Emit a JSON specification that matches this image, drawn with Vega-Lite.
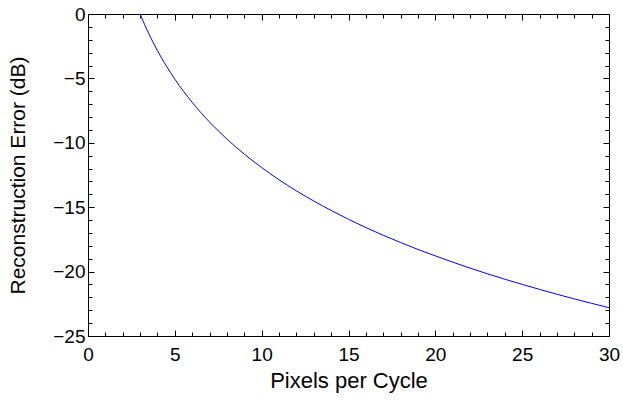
{
  "$schema": "https://vega.github.io/schema/vega-lite/v6.json",
  "autosize": {"type": "none"},
  "padding": {"left": 88, "top": 14, "right": 14, "bottom": 64},
  "width": 521,
  "height": 322,
  "config": {
    "view": {"stroke": "black", "strokeWidth": 1},
    "axis": {
      "domainColor": "black", "domainWidth": 1, "tickColor": "black", "tickWidth": 1,
      "grid": false, "labelFont": "Liberation Sans", "titleFont": "Liberation Sans",
      "labelFontSize": 19, "titleFontSize": 21, "titleFontWeight": "normal",
      "labelColor": "black", "titleColor": "black"
    }
  },
  "data": {"values": [
    {"x": 3, "y": 0}, {"x": 3.25, "y": -0.79}, {"x": 3.5, "y": -1.53}, {"x": 3.75, "y": -2.21},
    {"x": 4, "y": -2.85}, {"x": 4.5, "y": -4.01}, {"x": 5, "y": -5.06}, {"x": 5.5, "y": -6.0},
    {"x": 6, "y": -6.86}, {"x": 6.5, "y": -7.66}, {"x": 7, "y": -8.39}, {"x": 7.5, "y": -9.07},
    {"x": 8, "y": -9.71}, {"x": 9, "y": -10.88}, {"x": 10, "y": -11.92}, {"x": 11, "y": -12.87},
    {"x": 12, "y": -13.73}, {"x": 13, "y": -14.52}, {"x": 14, "y": -15.25}, {"x": 15, "y": -15.94},
    {"x": 16, "y": -16.58}, {"x": 17, "y": -17.18}, {"x": 18, "y": -17.74}, {"x": 19, "y": -18.28},
    {"x": 20, "y": -18.78}, {"x": 22, "y": -19.73}, {"x": 24, "y": -20.59}, {"x": 26, "y": -21.38},
    {"x": 28, "y": -22.12}, {"x": 30, "y": -22.8}
  ]},
  "resolve": {"axis": {"x": "independent", "y": "independent"}},
  "layer": [
    {
      "mark": {"type": "line", "color": "#0000ff", "strokeWidth": 1, "clip": true, "interpolate": "monotone"},
      "encoding": {
        "x": {"field": "x", "type": "quantitative", "scale": {"domain": [0, 30], "nice": false},
          "axis": {"orient": "bottom", "title": "Pixels per Cycle", "titleFontSize": 22,
            "values": [0,1,2,3,4,5,6,7,8,9,10,11,12,13,14,15,16,17,18,19,20,21,22,23,24,25,26,27,28,29,30],
            "labelExpr": "datum.value % 5 === 0 ? datum.label : ''",
            "tickSize": {"condition": {"test": "datum.value % 5 === 0", "value": -6}, "value": -4},
            "labelPadding": 15, "titlePadding": 4, "labelFlush": false, "labelOverlap": false}},
        "y": {"field": "y", "type": "quantitative", "scale": {"domain": [-25, 0], "nice": false},
          "axis": {"orient": "left", "title": "Reconstruction Error (dB)",
            "values": [-25,-24,-23,-22,-21,-20,-19,-18,-17,-16,-15,-14,-13,-12,-11,-10,-9,-8,-7,-6,-5,-4,-3,-2,-1,0],
            "labelExpr": "datum.value % 5 === 0 ? datum.label : ''",
            "tickSize": {"condition": {"test": "datum.value % 5 === 0", "value": -6}, "value": -4},
            "labelPadding": 9, "titlePadding": 24, "labelFlush": false, "labelOverlap": false}}
      }
    },
    {
      "mark": {"type": "line", "opacity": 0},
      "encoding": {
        "x": {"field": "x", "type": "quantitative", "scale": {"domain": [0, 30], "nice": false},
          "axis": {"orient": "top", "title": null, "labels": false,
            "values": [0,1,2,3,4,5,6,7,8,9,10,11,12,13,14,15,16,17,18,19,20,21,22,23,24,25,26,27,28,29,30],
            "tickSize": {"condition": {"test": "datum.value % 5 === 0", "value": -6}, "value": -4}}},
        "y": {"field": "y", "type": "quantitative", "scale": {"domain": [-25, 0], "nice": false},
          "axis": {"orient": "right", "title": null, "labels": false,
            "values": [-25,-24,-23,-22,-21,-20,-19,-18,-17,-16,-15,-14,-13,-12,-11,-10,-9,-8,-7,-6,-5,-4,-3,-2,-1,0],
            "tickSize": {"condition": {"test": "datum.value % 5 === 0", "value": -6}, "value": -4}}}
      }
    }
  ]
}
